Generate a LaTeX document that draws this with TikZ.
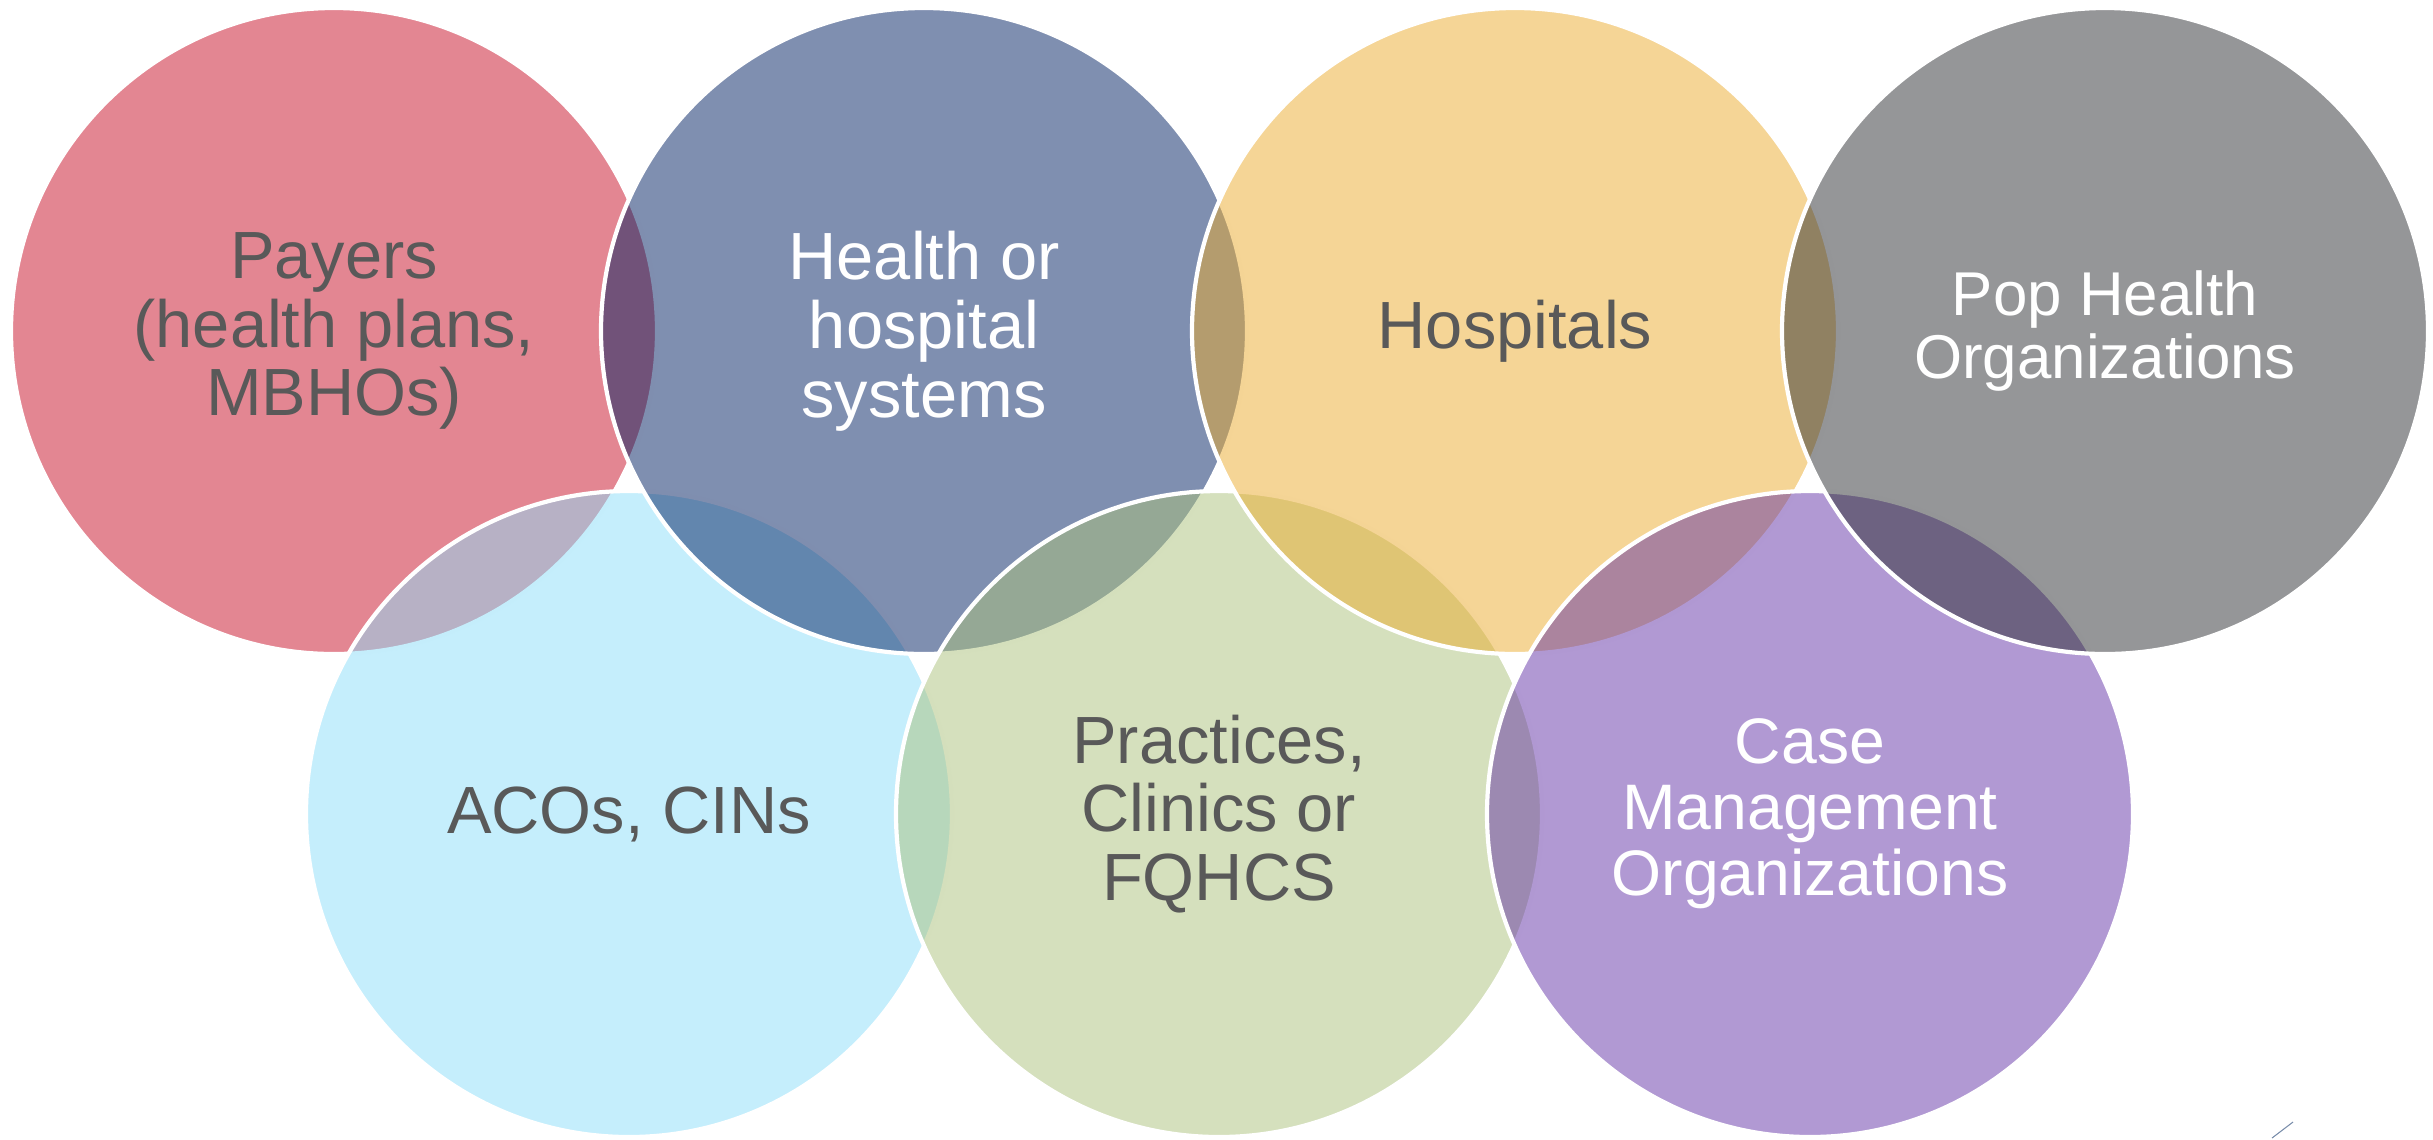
\documentclass[tikz,border=0pt]{standalone}
\usepackage{fontspec}
\setmainfont{Liberation Sans}
\usetikzlibrary{positioning}
\definecolor{payred}{RGB}{199,13,37}
\definecolor{healthblue}{RGB}{0,31,97}
\definecolor{hospyellow}{RGB}{235,171,45}
\definecolor{popgray}{RGB}{43,45,49}
\definecolor{acocyan}{RGB}{139,221,249}
\definecolor{pracgreen}{RGB}{171,193,123}
\definecolor{casepurple}{RGB}{99,51,167}
\definecolor{labelgray}{HTML}{595959}
\tikzset{
  venn/.style={circle, draw=white, line width=0.42mm, minimum size=6.46cm,
    inner sep=0pt, fill opacity=0.5, text opacity=1, align=center,
    font=\fontsize{19}{19.6}\selectfont},
  darklabel/.style={text=labelgray},
  lightlabel/.style={text=white}
}

\begin{document}
\begin{tikzpicture}
                \useasboundingbox (0,0) rectangle (24.33,-11.39);
                % Circles in drawing order, top and bottom rows alternate
                \node[venn, darklabel, fill=payred] (payers) at (3.34,-3.31) {Payers\\(health plans,\\MBHOs)};
                \node[venn, darklabel, fill=acocyan] (acos) at (6.29,-8.14) {ACOs, CINs};
                \node[venn, lightlabel, fill=healthblue] (health) at (9.24,-3.31) {Health or\\hospital\\systems};
                \node[venn, darklabel, fill=pracgreen] (practices) at (12.19,-8.14) {Practices,\\Clinics or\\FQHCS};
                \node[venn, darklabel, fill=hospyellow] (hospitals) at (15.15,-3.31) {Hospitals};
                \node[venn, lightlabel, fill=casepurple, font=\fontsize{18.3}{18.8}\selectfont] (casemgmt) at (18.10,-8.14) {Case\\Management\\Organizations};
                \node[venn, lightlabel, fill=popgray, font=\fontsize{17.6}{18}\selectfont] (pophealth) at (21.05,-3.31) {Pop Health\\Organizations};

                % Stray mark in the corner
                \draw[line width=0.3pt, color={rgb,255:red,120;green,140;blue,170}] (22.72,-11.38) -- (22.93,-11.22);
            \end{tikzpicture}
\end{document}
